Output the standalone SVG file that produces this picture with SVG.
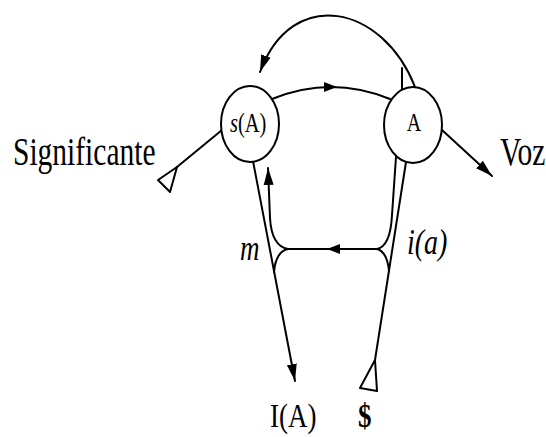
<svg xmlns="http://www.w3.org/2000/svg" width="546" height="437" viewBox="0 0 546 437">
<style>
.ln{fill:none;stroke:#000;stroke-width:2;stroke-linecap:round}
.nd{fill:#fff;stroke:#000;stroke-width:2}
.tri{fill:#fff;stroke:#000;stroke-width:2;stroke-linejoin:round}
.t{font-family:"Liberation Serif","Times New Roman",serif;fill:#000}
.it{font-style:italic}
</style>
<defs>
<marker id="ah" markerUnits="userSpaceOnUse" markerWidth="18" markerHeight="12" viewBox="0 0 18 12" refX="17" refY="6" orient="auto">
<path d="M0,1 L17,6 L0,11 z" fill="#000"/>
</marker>
<marker id="am" markerUnits="userSpaceOnUse" markerWidth="14" markerHeight="12" viewBox="0 0 14 12" refX="7" refY="6" orient="auto">
<path d="M0,1 L13,6 L0,11 z" fill="#000"/>
</marker>
</defs>
<rect width="546" height="437" fill="#fff"/>
<g id="connectors">
<path class="ln" d="M415,87 C383,5 292,-15 260,72" marker-end="url(#ah)"/>
<path class="ln" d="M402,68 L402,90"/>
<path class="ln" d="M272,99 Q301.5,87 331,87 Q360.5,87 390,99" marker-mid="url(#am)"/>
<path class="ln" d="M222,130 L177,167"/>
<polygon class="tri" points="177,167 158,180 170,192"/>
<path class="ln" d="M442,130 L492,176" marker-end="url(#ah)"/>
<path class="ln" d="M253,161 L295,381" marker-end="url(#ah)"/>
<path class="ln" d="M288,249 C277,247 271,236 270,218 L268,168" marker-end="url(#ah)"/>
<path class="ln" d="M288,249 C279,251 275,260 274,272"/>
<path class="ln" d="M377,249 L333,249 L288,249" marker-mid="url(#am)"/>
<path class="ln" d="M406,162 L375,360"/>
<path class="ln" d="M396,157 L392,215 C391,236 386,247 377,249"/>
<path class="ln" d="M377,249 C384,251 388,260 389,271"/>
<polygon class="tri" points="375,360 360,388 377,391"/>
</g>
<g id="node-sA">
<ellipse class="nd" cx="250" cy="124" rx="29" ry="38"/>
<text class="t" font-size="20.5" transform="translate(230,132) scale(1,1.3)"><tspan class="it">s</tspan>(A)</text>
</g>
<g id="node-A">
<ellipse class="nd" cx="413" cy="125" rx="29" ry="38"/>
<text class="t" font-size="20" text-anchor="middle" transform="translate(414,131) scale(1,1.3)">A</text>
</g>
<g id="label-significante">
<text class="t" font-size="29.5" transform="translate(13,165) scale(1,1.35)">Significante</text>
</g>
<g id="label-voz">
<text class="t" font-size="29.5" transform="translate(500,165) scale(1,1.35)">Voz</text>
</g>
<g id="label-m">
<text class="t it" font-size="27" transform="translate(240,260) scale(1,1.35)">m</text>
</g>
<g id="label-ia">
<text class="t it" font-size="28" transform="translate(407,254) scale(1,1.3)">i(a)</text>
</g>
<g id="label-IA">
<text class="t" font-size="27" transform="translate(270,427) scale(1,1.28)">I(A)</text>
</g>
<g id="label-S">
<text class="t" font-size="27" font-weight="bold" transform="translate(358,427) scale(1,1.28)">$</text>
</g>
</svg>
